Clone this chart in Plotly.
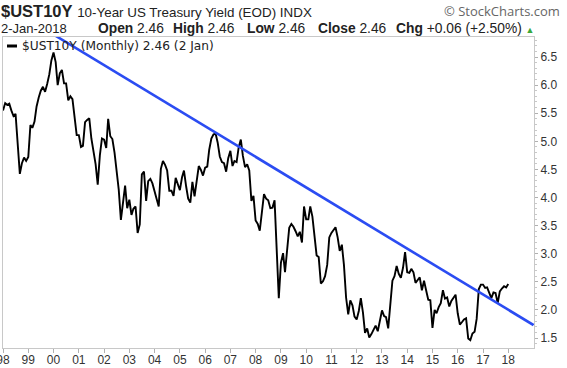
import pandas as pd
import plotly.graph_objects as go

# ---- data (month-start positions, monthly closes) ----
y1998 = [5.55, 5.68, 5.65, 5.67, 5.55, 5.45, 5.49, 4.98, 4.42, 4.61, 4.71, 4.65]
y1999 = [4.72, 5.29, 5.24, 5.35, 5.62, 5.78, 5.90, 5.97, 5.88, 6.02, 6.19, 6.44]
y2000 = [6.58, 6.41, 6.00, 6.21, 6.27, 6.03, 6.03, 5.73, 5.80, 5.75, 5.47, 5.11]
y2001 = [5.11, 4.90, 4.92, 5.34, 5.38, 5.41, 5.05, 4.83, 4.59, 4.23, 4.75, 5.05]
y2002 = [5.03, 4.88, 5.40, 5.09, 5.04, 4.80, 4.46, 4.14, 3.60, 3.89, 4.21, 3.81]
y2003 = [3.96, 3.69, 3.80, 3.84, 3.37, 3.52, 4.41, 4.46, 3.94, 4.29, 4.33, 4.25]
y2004 = [4.13, 3.97, 3.84, 4.51, 4.65, 4.58, 4.48, 4.12, 4.12, 4.03, 4.35, 4.22]
y2005 = [4.13, 4.36, 4.48, 4.20, 3.98, 3.91, 4.28, 4.02, 4.33, 4.56, 4.49, 4.39]
y2006 = [4.53, 4.55, 4.85, 5.05, 5.12, 5.14, 4.98, 4.73, 4.63, 4.61, 4.46, 4.70]
y2007 = [4.83, 4.56, 4.65, 4.63, 4.89, 5.03, 4.74, 4.54, 4.59, 4.48, 3.94, 4.03]
y2008 = [3.59, 3.53, 3.41, 3.73, 4.06, 3.98, 3.95, 3.81, 3.82, 3.95, 2.93, 2.21]
y2009 = [2.84, 3.01, 2.67, 3.12, 3.46, 3.53, 3.48, 3.40, 3.31, 3.39, 3.20, 3.84]
y2010 = [3.61, 3.61, 3.84, 3.66, 3.31, 2.97, 2.94, 2.47, 2.51, 2.60, 2.80, 3.29]
y2011 = [3.37, 3.42, 3.47, 3.29, 3.05, 3.16, 2.80, 2.22, 1.92, 2.17, 2.08, 1.88]
y2012 = [1.83, 1.98, 2.21, 1.95, 1.59, 1.67, 1.51, 1.57, 1.65, 1.72, 1.62, 1.78]
y2013 = [1.99, 1.89, 1.87, 1.67, 2.16, 2.52, 2.60, 2.78, 2.64, 2.57, 2.75, 3.03]
y2014 = [2.67, 2.66, 2.73, 2.67, 2.48, 2.53, 2.58, 2.35, 2.52, 2.35, 2.18, 2.17]
y2015 = [1.68, 2.00, 1.94, 2.05, 2.12, 2.35, 2.20, 2.22, 2.06, 2.16, 2.21, 2.27]
y2016 = [1.94, 1.74, 1.78, 1.83, 1.85, 1.49, 1.46, 1.58, 1.61, 1.84, 2.37, 2.45]
y2017 = [2.45, 2.39, 2.40, 2.29, 2.21, 2.31, 2.30, 2.12, 2.33, 2.38, 2.42, 2.40]
y2018 = [2.46]

values = (y1998 + y1999 + y2000 + y2001 + y2002 + y2003 + y2004 + y2005 + y2006 +
          y2007 + y2008 + y2009 + y2010 + y2011 + y2012 + y2013 + y2014 + y2015 +
          y2016 + y2017 + y2018)
dates = pd.date_range("1998-01-01", periods=len(values), freq="MS")

trend_dates = ["2000-01-01", "2019-01-01"]
trend_values = [6.90, 1.73]

year_ticks = [f"{y}-01-01" for y in range(1998, 2019)]
year_labels = [str(y)[2:] for y in range(1998, 2019)]
y_ticks = [1.5, 2.0, 2.5, 3.0, 3.5, 4.0, 4.5, 5.0, 5.5, 6.0, 6.5]

quote_labels = ["Open", "High", "Low", "Close"]
quote_values = ["2.46", "2.46", "2.46", "2.46"]

W, H = 567, 368
ML, MR, MT, MB = 3, 33, 37, 20
PW, PH = W - ML - MR, H - MT - MB


def px(x):
    return (x - ML) / PW


def py(y):
    return 1 - (y - MT) / PH


fig = go.Figure()
fig.add_trace(go.Scatter(x=dates, y=values, mode="lines",
                         line=dict(color="#000000", width=1.9), hoverinfo="skip"))
fig.add_trace(go.Scatter(x=trend_dates, y=trend_values, mode="lines",
                         line=dict(color="#2b4cf2", width=2.6), hoverinfo="skip"))

font_main = "Liberation Sans, Arial, sans-serif"

fig.update_layout(
    template="none",
    width=W, height=H,
    margin=dict(l=ML, r=MR, t=MT, b=MB, pad=0),
    paper_bgcolor="white", plot_bgcolor="white",
    showlegend=False,
    font=dict(family=font_main, size=12, color="#333333"),
    xaxis=dict(
        type="date", range=["1997-12-31 12:00", "2019-01-08"],
        tickvals=year_ticks, ticktext=year_labels,
        ticks="outside", ticklen=4, tickcolor="#b0b0b0", tickwidth=1,
        ticklabeloverflow="allow", ticklabelstandoff=-3,
        showgrid=False, zeroline=False, automargin=False,
        showline=True, linecolor="#c8c8c8", linewidth=1, mirror=True,
        tickfont=dict(family=font_main, size=12, color="#333333"),
    ),
    yaxis=dict(
        side="right", range=[1.322, 6.856],
        tickvals=y_ticks, tickformat=".1f",
        ticks="outside", ticklen=3, tickcolor="#b0b0b0", tickwidth=1,
        minor=dict(dtick=0.1, ticks="outside", ticklen=2, tickcolor="#c8c8c8"),
        showgrid=False, zeroline=False, automargin=False,
        showline=True, linecolor="#c8c8c8", linewidth=1, mirror=True,
        tickfont=dict(family=font_main, size=12, color="#333333"),
    ),
)

ann = []
ann.append(dict(x=px(-1), y=py(11), xref="paper", yref="paper", xanchor="left", yanchor="middle",
                showarrow=False, align="left",
                text="<b>$UST10Y</b> <span style='font-size:13.4px'>10-Year US Treasury Yield (EOD) INDX</span>",
                font=dict(family=font_main, size=16.5, color="#222222")))
ann.append(dict(x=px(562), y=py(11), xref="paper", yref="paper", xanchor="right", yanchor="middle",
                showarrow=False, text="© StockCharts.com",
                font=dict(family="Open Sans, Liberation Sans, sans-serif", size=13, color="#666666")))
ann.append(dict(x=px(-1), y=py(28), xref="paper", yref="paper", xanchor="left", yanchor="middle",
                showarrow=False, text="2-Jan-2018",
                font=dict(family=font_main, size=13, color="#222222")))
quote_x = [96, 171, 245, 316]
for lab, val, xx in zip(quote_labels, quote_values, quote_x):
    ann.append(dict(x=px(xx), y=py(28), xref="paper", yref="paper", xanchor="left", yanchor="middle",
                    showarrow=False, text=f"<b>{lab}</b> {val}",
                    font=dict(family=font_main, size=13.8, color="#222222")))
ann.append(dict(x=px(394), y=py(28), xref="paper", yref="paper", xanchor="left", yanchor="middle",
                showarrow=False,
                text="<b>Chg</b> +0.06 (+2.50%) <span style='color:#3aa83a;font-size:9px'>▲</span>",
                font=dict(family=font_main, size=13.8, color="#222222")))
ann.append(dict(x=px(20), y=py(46), xref="paper", yref="paper", xanchor="left", yanchor="middle",
                showarrow=False, text="$UST10Y (Monthly) 2.46 (2 Jan)",
                font=dict(family="DejaVu Sans, Verdana, sans-serif", size=12.2, color="#222222")))
fig.update_layout(annotations=ann)

fig.add_shape(type="line", xref="paper", yref="paper",
              x0=px(7), x1=px(17), y0=py(46), y1=py(46),
              line=dict(color="#000000", width=3))

fig.write_html("out.html", config={"displayModeBar": False},
               post_script="document.body.style.margin='0px';")
